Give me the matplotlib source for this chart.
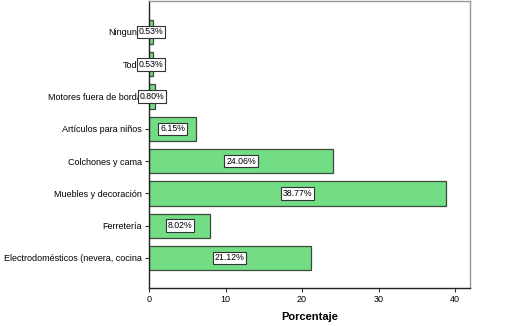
import numpy as np
import matplotlib.pyplot as plt

categorias = ['Ninguno', 'Todo', 'Motores fuera de borda', 'Artículos para niños',
              'Colchones y cama', 'Muebles y decoración', 'Ferretería',
              'Electrodomésticos (nevera, cocina']
porcentajes = [0.53, 0.53, 0.80, 6.15, 24.06, 38.77, 8.02, 21.12]
xticks = [0, 10, 20, 30, 40]

plt.rcParams['font.family'] = ['Liberation Sans', 'DejaVu Sans']

fig = plt.figure(figsize=(5.17, 3.26), dpi=100)
ax = fig.add_axes([149/517, 1 - 288/326, (470 - 149)/517, 287/326])

y = np.arange(len(categorias))
ax.barh(y, porcentajes, height=0.75, color='#72dd84', edgecolor='#3a4a3c', linewidth=0.9)

# etiquetas de valor centradas en cada barra (tapan parte del nombre, como en el original)
for yi, v in zip(y, porcentajes):
    ax.text(v / 2, yi, '%.2f%%' % v, ha='center', va='center', fontsize=6.3,
            zorder=5, clip_on=False,
            bbox=dict(boxstyle='square,pad=0.2', fc='white', ec='#333333', lw=0.8))

ax.set_yticks(y)
ax.set_yticklabels(categorias, fontsize=6.5)
ax.set_ylim(7.93, -0.96)
ax.set_xlim(0, 41.96)
ax.set_xticks(xticks)
ax.set_xticklabels([str(t) for t in xticks], fontsize=6.5)
ax.tick_params(axis='both', length=3, width=0.8, color='#333333', pad=2)
ax.set_xlabel('Porcentaje', fontsize=8, fontweight='bold', labelpad=6)

ax.spines['left'].set_color('#222222')
ax.spines['bottom'].set_color('#222222')
ax.spines['top'].set_color('#999999')
ax.spines['right'].set_color('#999999')
for s in ax.spines.values():
    s.set_linewidth(1.0)

fig.savefig('out.png', dpi=100)
